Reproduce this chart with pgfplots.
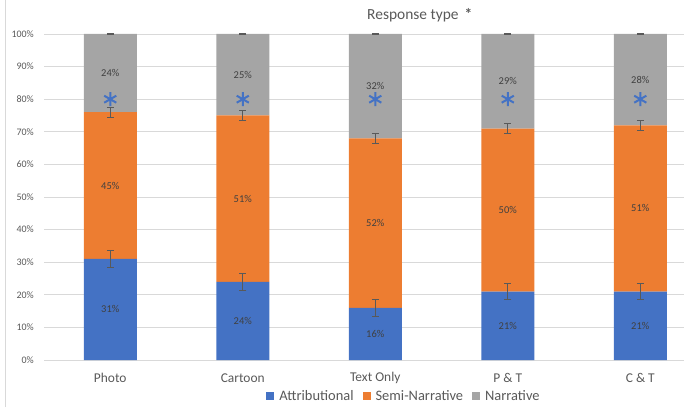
\documentclass[border=0pt]{standalone}
\usepackage{fontspec}
\setmainfont{Carlito}
\usepackage{pgfplots}
\pgfplotsset{compat=1.18}
\definecolor{cA}{HTML}{4472C4}
\definecolor{cS}{HTML}{ED7D31}
\definecolor{cN}{HTML}{A5A5A5}
\definecolor{gridc}{HTML}{D9D9D9}
\definecolor{txt}{HTML}{595959}
\definecolor{lab}{HTML}{404040}
\definecolor{errc}{HTML}{595959}
\begin{document}
\begin{tikzpicture}[x=1bp,y=1bp]
\useasboundingbox (0,0) rectangle (684,407);
\draw[gridc, line width=0.75bp] (5.5,0) -- (5.5,407);
\pgfplotsset{base/.style={
  at={(44bp,47bp)}, anchor=south west,
  scale only axis, width=640bp, height=326bp,
  xmin=-0.5, xmax=4.33, ymin=0, ymax=100,
  xtick={0,1,2,3,4}, ytick={0,10,...,100},
  axis line style={draw=none}, major tick length=0pt, tick style={draw=none},
}}
\pgfplotsset{errstyle/.style={draw=none, mark=none,
  error bars/.cd, y dir=both, y explicit,
  error bar style={draw=errc, line width=0.8bp},
  error mark options={draw=errc, rotate=90, mark size=3.5bp, line width=0.8bp}}}
\begin{axis}[base, ybar stacked, bar width=53bp,
  xticklabels={Photo,Cartoon,Text Only,P \& T,C \& T},
  yticklabels={0\%,10\%,20\%,30\%,40\%,50\%,60\%,70\%,80\%,90\%,100\%},
  ymajorgrids, grid style={gridc, line width=0.75bp},
  yticklabel style={font=\fontsize{10}{11}\selectfont, text=txt, anchor=east, inner sep=0pt, xshift=-10bp},
  xticklabel style={font=\fontsize{13.5}{15}\selectfont, text=txt, anchor=center, inner sep=0pt, yshift=-18bp},
  legend style={at={(0.5625,-0.11)}, anchor=center, draw=none, fill=none, legend columns=3,
    font=\fontsize{14.5}{16}\selectfont, text=txt, inner sep=0pt,
    /tikz/every odd column/.style={column sep=3bp},
    /tikz/every even column/.style={column sep=7bp}},
  legend image code/.code={\fill[#1,draw=none] (0bp,-4bp) rectangle (8bp,4bp);},
]
\addplot[fill=cA, draw=none] coordinates {(0,31) (1,24) (2,16) (3,21) (4,21)};
\addplot[fill=cS, draw=none] coordinates {(0,45) (1,51) (2,52) (3,50) (4,51)};
\addplot[fill=cN, draw=none] coordinates {(0,24) (1,25) (2,32) (3,29) (4,28)};
\legend{Attributional, Semi-Narrative, Narrative}
\end{axis}
\begin{axis}[base, hide axis, clip=false]
% error bars at the top of each segment
\addplot[errstyle]
  coordinates {(0,31) +- (0,2.5) (1,24) +- (0,2.6) (2,16) +- (0,2.5) (3,21) +- (0,2.5) (4,21) +- (0,2.5)};
\addplot[errstyle]
  coordinates {(0,76) +- (0,1.5) (1,75) +- (0,1.6) (2,68) +- (0,1.6) (3,71) +- (0,1.5) (4,72) +- (0,1.6)};
\addplot[errstyle]
  coordinates {(0,100) +- (0,0.1) (1,100) +- (0,0.1) (2,100) +- (0,0.1) (3,100) +- (0,0.1) (4,100) +- (0,0.1)};
% data labels
\addplot[only marks, mark=none, nodes near coords, point meta=explicit symbolic,
  nodes near coords style={anchor=center, inner sep=0pt, font=\fontsize{10.5}{11}\selectfont, text=lab}]
  coordinates {(0,15.5) [31\%] (1,12) [24\%] (2,8) [16\%] (3,10.5) [21\%] (4,10.5) [21\%]
               (0,53.5) [45\%] (1,49.5) [51\%] (2,42) [52\%] (3,46) [50\%] (4,46.5) [51\%]
               (0,88) [24\%] (1,87.5) [25\%] (2,84) [32\%] (3,85.5) [29\%] (4,86) [28\%]};
% significance asterisks
\addplot[cA, only marks, mark=asterisk, mark size=7bp, line width=2bp]
  coordinates {(0,80) (1,80) (2,80) (3,80) (4,80)};
\end{axis}
\node[anchor=west, text=txt, font=\fontsize{15.5}{17}\selectfont, inner sep=0pt] at (367,392) {Response type\hspace{6bp}\textbf{*}};
\end{tikzpicture}
\end{document}
